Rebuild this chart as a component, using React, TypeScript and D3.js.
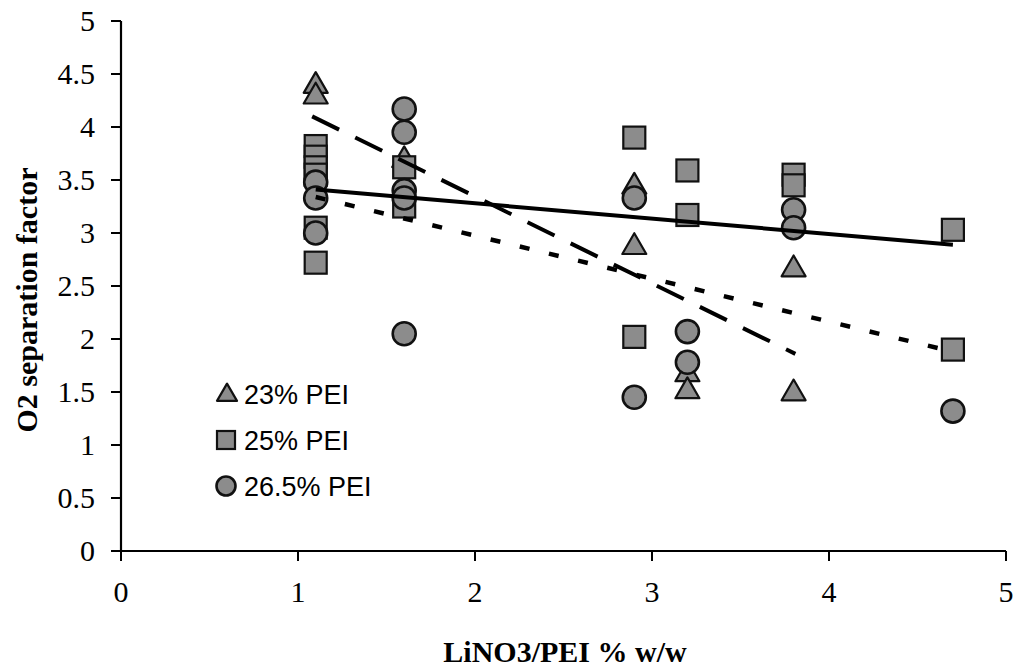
import React from "react";
import * as d3 from "d3";

const xTicks = [0, 1, 2, 3, 4, 5];
const yTicks = [0, 0.5, 1, 1.5, 2, 2.5, 3, 3.5, 4, 4.5, 5];

const pei23X = [1.1, 1.1, 1.6, 2.9, 2.9, 3.2, 3.2, 3.8, 3.8];
const pei23Y = [4.4, 4.3, 3.7, 3.45, 2.88, 1.68, 1.52, 2.67, 1.5];

const pei25X = [1.1, 1.1, 1.1, 1.1, 1.1, 1.1, 1.6, 1.6, 2.9, 2.9, 3.2, 3.2, 3.8, 3.8, 4.7, 4.7];
const pei25Y = [3.82, 3.72, 3.62, 3.55, 3.05, 2.72, 3.62, 3.25, 3.9, 2.02, 3.59, 3.17, 3.55, 3.45, 3.03, 1.9];

const pei265X = [1.1, 1.1, 1.1, 1.6, 1.6, 1.6, 1.6, 1.6, 2.9, 2.9, 3.2, 3.2, 3.8, 3.8, 4.7];
const pei265Y = [3.48, 3.33, 3.0, 4.17, 3.95, 3.4, 3.33, 2.05, 3.33, 1.45, 2.07, 1.78, 3.22, 3.05, 1.32];

// trend line endpoints [x, y]
const trend23 = [[1.08, 4.1], [3.81, 1.86]];
const trend25 = [[1.1, 3.41], [4.7, 2.89]];
const trend265 = [[1.1, 3.34], [4.7, 1.88]];

const legendLabels = ["23% PEI", "25% PEI", "26.5% PEI"];

const W = 1021, H = 669;
const x = d3.scaleLinear().domain([0, 5]).range([121, 1006]);
const y = d3.scaleLinear().domain([0, 5]).range([551, 21]);

const FILL = "#8c8c8c";
const STROKE = "#111";

function Tri({ cx, cy, s = 12 }: { cx: number; cy: number; s?: number }) {
  const h = s * 1.73;
  const pts = `${cx},${cy - h * 0.6} ${cx - s},${cy + h * 0.4} ${cx + s},${cy + h * 0.4}`;
  return <polygon points={pts} fill={FILL} stroke={STROKE} strokeWidth={2.2} strokeLinejoin="round" />;
}
function Sq({ cx, cy, s = 11 }: { cx: number; cy: number; s?: number }) {
  return <rect x={cx - s} y={cy - s} width={2 * s} height={2 * s} fill={FILL} stroke={STROKE} strokeWidth={2.2} />;
}
function Circ({ cx, cy, r = 11.5 }: { cx: number; cy: number; r?: number }) {
  return <circle cx={cx} cy={cy} r={r} fill={FILL} stroke={STROKE} strokeWidth={2.6} />;
}

export default function App() {
  const line = d3.line<number[]>().x((d) => x(d[0])).y((d) => y(d[1]));
  const serif = "'Liberation Serif', 'Times New Roman', serif";
  const sans = "'Liberation Sans', Arial, sans-serif";
  const legY = [394, 440, 486];
  return (
    <svg width={W} height={H} style={{ position: "absolute", left: 0, top: 0, background: "#fff" }}>
      {/* axes */}
      <line x1={x(0)} x2={x(0)} y1={y(5)} y2={y(0)} stroke="#000" strokeWidth={2.2} />
      <line x1={x(0)} x2={x(5)} y1={y(0)} y2={y(0)} stroke="#000" strokeWidth={2.2} />
      {yTicks.map((t) => (
        <g key={"y" + t}>
          <line x1={x(0) - 10} x2={x(0)} y1={y(t)} y2={y(t)} stroke="#000" strokeWidth={2} />
          <text x={x(0) - 26} y={y(t)} dy="0.34em" textAnchor="end" fontFamily={serif} fontSize={30}>{t}</text>
        </g>
      ))}
      {xTicks.map((t) => (
        <g key={"x" + t}>
          <line x1={x(t)} x2={x(t)} y1={y(0)} y2={y(0) + 10} stroke="#000" strokeWidth={2} />
          <text x={x(t)} y={602} textAnchor="middle" fontFamily={serif} fontSize={30}>{t}</text>
        </g>
      ))}
      <text x={565} y={662} textAnchor="middle" fontFamily={serif} fontSize={30} fontWeight="bold">LiNO3/PEI % w/w</text>
      <text transform={`translate(37, 300) rotate(-90)`} textAnchor="middle" fontFamily={serif} fontSize={30} fontWeight="bold">O2 separation factor</text>

      {/* points */}
      {pei23X.map((v, i) => <Tri key={"t" + i} cx={x(v)} cy={y(pei23Y[i])} />)}
      {pei25X.map((v, i) => <Sq key={"s" + i} cx={x(v)} cy={y(pei25Y[i])} />)}
      {pei265X.map((v, i) => <Circ key={"c" + i} cx={x(v)} cy={y(pei265Y[i])} />)}

      {/* trend lines */}
      <path d={line(trend25 as any) || ""} stroke="#000" strokeWidth={4} fill="none" />
      <path d={line(trend23 as any) || ""} stroke="#000" strokeWidth={4} fill="none" strokeDasharray="30 18" />
      <path d={line(trend265 as any) || ""} stroke="#000" strokeWidth={4.5} fill="none" strokeDasharray="10 20" />

      {/* legend */}
      <Tri cx={227} cy={legY[0]} s={10} />
      <text x={244} y={legY[0]} dy="0.36em" fontFamily={sans} fontSize={27}>{legendLabels[0]}</text>
      <Sq cx={226} cy={legY[1]} s={9} />
      <text x={244} y={legY[1]} dy="0.36em" fontFamily={sans} fontSize={27}>{legendLabels[1]}</text>
      <Circ cx={226} cy={legY[2]} r={9.5} />
      <text x={244} y={legY[2]} dy="0.36em" fontFamily={sans} fontSize={27}>{legendLabels[2]}</text>
    </svg>
  );
}
